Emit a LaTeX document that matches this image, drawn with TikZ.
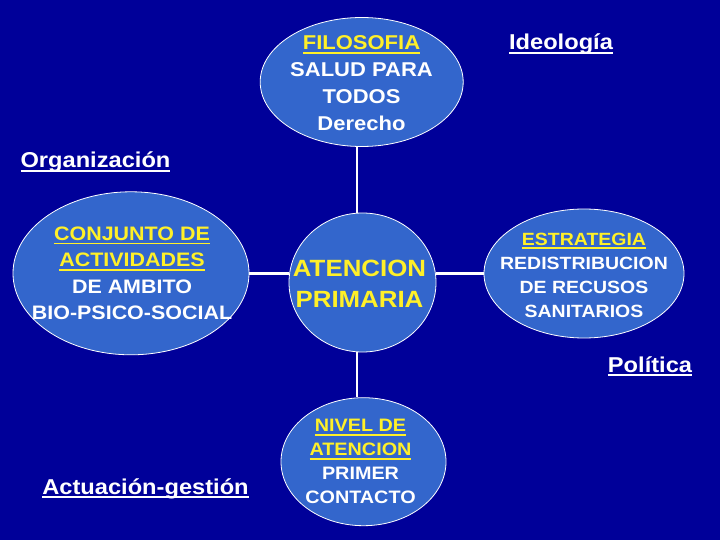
\documentclass[tikz,border=0pt]{standalone}
\usepackage{fontspec}
\setmainfont{Liberation Sans}[FakeStretch=1.1]
\usetikzlibrary{shapes.geometric}
\definecolor{bgblue}{RGB}{0,0,153}
\definecolor{ellblue}{RGB}{51,102,204}
\definecolor{txtyellow}{RGB}{255,240,40}
\newcommand\myul[1]{\setbox0\hbox{#1}\rlap{\rule[-4pt]{\wd0}{1.7pt}}\box0}
\newcommand\fsz[2]{\fontsize{#1}{#2}\selectfont\bfseries}
\begin{document}
\begin{tikzpicture}[x=1pt,y=-1pt,
  bubble/.style={ellipse, draw=white, line width=0.8pt, fill=ellblue, inner sep=0pt},
  link/.style={draw=white, line width=2.6pt},
  btext/.style={align=center, text=white, inner sep=0pt},
  tag/.style={anchor=base, text=white, inner sep=0pt, font=\fsz{21.5}{26}}]
\fill[bgblue] (0,0) rectangle (720,540);
\useasboundingbox (0,0) rectangle (720,540);
% bubbles
\node[bubble, minimum width=203pt, minimum height=129pt] (top) at (361.7,82) {};
\node[bubble, minimum width=236pt, minimum height=163pt] (left) at (131,273.3) {};
\node[bubble, minimum width=147pt, minimum height=139pt] (mid) at (362.5,282.5) {};
\node[bubble, minimum width=200pt, minimum height=129pt] (right) at (584,273.5) {};
\node[bubble, minimum width=165pt, minimum height=128pt] (bot) at (363.5,461.7) {};
% connectors
\draw[link] ([xshift=-5.5pt]mid.north) -- ([xshift=-5.5pt]mid.north |- top.south);
\draw[link] ([xshift=-5.5pt]mid.south) -- ([xshift=-5.5pt]mid.south |- bot.north);
\draw[link] (left.east) -- (left.east -| mid.west);
\draw[link] (right.west) -- (right.west -| mid.east);
% texts
\node[btext, font=\fsz{20}{27}] (toptxt) at (361.5,83.5)
  {\textcolor{txtyellow}{\myul{FILOSOFIA}}\\SALUD PARA\\TODOS\\Derecho};
\node[btext, font=\fsz{19.5}{26.5}] (lefttxt) at (132,273.5)
  {\textcolor{txtyellow}{\myul{CONJUNTO DE}}\\\textcolor{txtyellow}{\myul{ACTIVIDADES}}\\DE AMBITO\\BIO-PSICO-SOCIAL};
\node[btext, text=txtyellow, font=\fsz{23.5}{31}] (midtxt) at (359.5,283.5)
  {ATENCION\\PRIMARIA};
\node[btext, font=\fsz{17.7}{24}] (righttxt) at (584,275)
  {\textcolor{txtyellow}{\myul{ESTRATEGIA}}\\REDISTRIBUCION\\DE RECUSOS\\SANITARIOS};
\node[btext, font=\fsz{18}{24}] (bottxt) at (360.5,461.5)
  {\textcolor{txtyellow}{\myul{NIVEL DE}}\\\textcolor{txtyellow}{\myul{ATENCION}}\\PRIMER\\CONTACTO};
% side labels
\node[tag] (ideo) at (561,50) {\myul{Ideología}};
\node[tag] (orga) at (95.5,168) {\myul{Organización}};
\node[tag] (poli) at (650,372) {\myul{Política}};
\node[tag] (actu) at (145.5,494) {\myul{Actuación-gestión}};
\end{tikzpicture}
\end{document}
